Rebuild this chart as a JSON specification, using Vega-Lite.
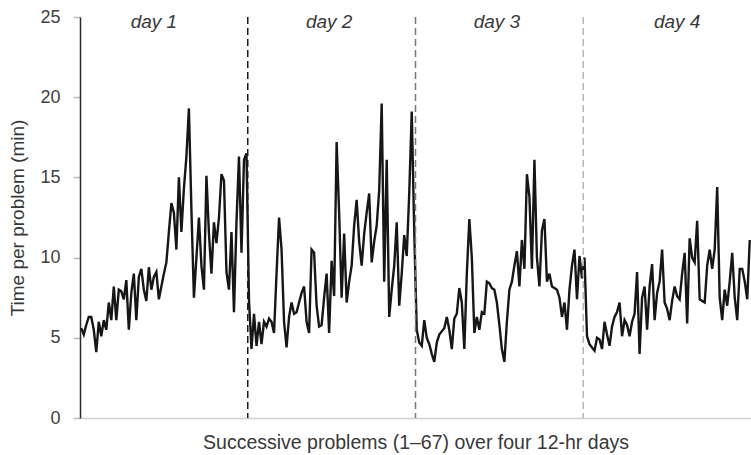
{
  "$schema": "https://vega.github.io/schema/vega-lite/v6.json",
  "width": 671,
  "height": 401,
  "autosize": {"type": "none"},
  "padding": {"left": 80, "top": 17, "right": 0, "bottom": 37},
  "background": "white",
  "config": {
    "view": {"stroke": null},
    "font": "Liberation Sans"
  },
  "datasets": {
    "times": [
      {"problem": 1, "minutes": 5.6}, {"problem": 2, "minutes": 5.2}, {"problem": 3, "minutes": 5.8}, {"problem": 4, "minutes": 6.3}, {"problem": 5, "minutes": 6.3},
      {"problem": 6, "minutes": 5.5}, {"problem": 7, "minutes": 4.1}, {"problem": 8, "minutes": 6.0}, {"problem": 9, "minutes": 5.1}, {"problem": 10, "minutes": 6.1},
      {"problem": 11, "minutes": 5.5}, {"problem": 12, "minutes": 7.2}, {"problem": 13, "minutes": 6.1}, {"problem": 14, "minutes": 8.2}, {"problem": 15, "minutes": 6.1},
      {"problem": 16, "minutes": 8.0}, {"problem": 17, "minutes": 7.9}, {"problem": 18, "minutes": 7.4}, {"problem": 19, "minutes": 8.6}, {"problem": 20, "minutes": 5.5},
      {"problem": 21, "minutes": 7.8}, {"problem": 22, "minutes": 9.0}, {"problem": 23, "minutes": 6.1}, {"problem": 24, "minutes": 8.8}, {"problem": 25, "minutes": 9.3},
      {"problem": 26, "minutes": 8.0}, {"problem": 27, "minutes": 7.3}, {"problem": 28, "minutes": 9.4}, {"problem": 29, "minutes": 8.0}, {"problem": 30, "minutes": 8.8},
      {"problem": 31, "minutes": 9.1}, {"problem": 32, "minutes": 7.4}, {"problem": 33, "minutes": 8.2}, {"problem": 34, "minutes": 9.0}, {"problem": 35, "minutes": 9.7},
      {"problem": 36, "minutes": 11.6}, {"problem": 37, "minutes": 13.4}, {"problem": 38, "minutes": 12.8}, {"problem": 39, "minutes": 10.5}, {"problem": 40, "minutes": 15.0},
      {"problem": 41, "minutes": 11.6}, {"problem": 42, "minutes": 14.3}, {"problem": 43, "minutes": 16.3}, {"problem": 44, "minutes": 19.3}, {"problem": 45, "minutes": 13.0},
      {"problem": 46, "minutes": 7.5}, {"problem": 47, "minutes": 10.0}, {"problem": 48, "minutes": 12.5}, {"problem": 49, "minutes": 9.5}, {"problem": 50, "minutes": 8.0},
      {"problem": 51, "minutes": 15.1}, {"problem": 52, "minutes": 11.5}, {"problem": 53, "minutes": 9.0}, {"problem": 54, "minutes": 12.2}, {"problem": 55, "minutes": 10.9},
      {"problem": 56, "minutes": 12.5}, {"problem": 57, "minutes": 15.2}, {"problem": 58, "minutes": 14.8}, {"problem": 59, "minutes": 9.1}, {"problem": 60, "minutes": 8.0},
      {"problem": 61, "minutes": 11.6}, {"problem": 62, "minutes": 6.6}, {"problem": 63, "minutes": 12.2}, {"problem": 64, "minutes": 16.3}, {"problem": 65, "minutes": 10.3},
      {"problem": 66, "minutes": 16.1}, {"problem": 67, "minutes": 16.5},
      {"problem": 68, "minutes": 7.3}, {"problem": 69, "minutes": 4.3}, {"problem": 70, "minutes": 6.5}, {"problem": 71, "minutes": 4.5}, {"problem": 72, "minutes": 6.0},
      {"problem": 73, "minutes": 4.6}, {"problem": 74, "minutes": 6.0}, {"problem": 75, "minutes": 5.7}, {"problem": 76, "minutes": 6.2}, {"problem": 77, "minutes": 6.0},
      {"problem": 78, "minutes": 5.3}, {"problem": 79, "minutes": 9.0}, {"problem": 80, "minutes": 12.5}, {"problem": 81, "minutes": 10.5}, {"problem": 82, "minutes": 6.0},
      {"problem": 83, "minutes": 4.4}, {"problem": 84, "minutes": 6.3}, {"problem": 85, "minutes": 7.2}, {"problem": 86, "minutes": 6.5}, {"problem": 87, "minutes": 6.6},
      {"problem": 88, "minutes": 7.2}, {"problem": 89, "minutes": 7.8}, {"problem": 90, "minutes": 8.2}, {"problem": 91, "minutes": 6.0}, {"problem": 92, "minutes": 5.3},
      {"problem": 93, "minutes": 10.5}, {"problem": 94, "minutes": 10.3}, {"problem": 95, "minutes": 7.0}, {"problem": 96, "minutes": 5.7}, {"problem": 97, "minutes": 5.8},
      {"problem": 98, "minutes": 7.5}, {"problem": 99, "minutes": 9.0}, {"problem": 100, "minutes": 5.3}, {"problem": 101, "minutes": 9.8}, {"problem": 102, "minutes": 7.6},
      {"problem": 103, "minutes": 17.2}, {"problem": 104, "minutes": 12.8}, {"problem": 105, "minutes": 7.5}, {"problem": 106, "minutes": 11.5}, {"problem": 107, "minutes": 7.2},
      {"problem": 108, "minutes": 8.5}, {"problem": 109, "minutes": 9.5}, {"problem": 110, "minutes": 12.0}, {"problem": 111, "minutes": 13.6}, {"problem": 112, "minutes": 11.0},
      {"problem": 113, "minutes": 9.5}, {"problem": 114, "minutes": 11.5}, {"problem": 115, "minutes": 12.8}, {"problem": 116, "minutes": 14.0}, {"problem": 117, "minutes": 9.7},
      {"problem": 118, "minutes": 11.0}, {"problem": 119, "minutes": 12.0}, {"problem": 120, "minutes": 14.2}, {"problem": 121, "minutes": 19.6}, {"problem": 122, "minutes": 8.5},
      {"problem": 123, "minutes": 16.1}, {"problem": 124, "minutes": 6.3}, {"problem": 125, "minutes": 8.0}, {"problem": 126, "minutes": 9.5}, {"problem": 127, "minutes": 12.2},
      {"problem": 128, "minutes": 7.0}, {"problem": 129, "minutes": 9.0}, {"problem": 130, "minutes": 11.4}, {"problem": 131, "minutes": 10.1}, {"problem": 132, "minutes": 14.0},
      {"problem": 133, "minutes": 19.1}, {"problem": 134, "minutes": 11.6},
      {"problem": 135, "minutes": 5.5}, {"problem": 136, "minutes": 4.7}, {"problem": 137, "minutes": 4.5}, {"problem": 138, "minutes": 6.1}, {"problem": 139, "minutes": 5.0},
      {"problem": 140, "minutes": 4.6}, {"problem": 141, "minutes": 4.0}, {"problem": 142, "minutes": 3.5}, {"problem": 143, "minutes": 4.7}, {"problem": 144, "minutes": 5.2},
      {"problem": 145, "minutes": 5.4}, {"problem": 146, "minutes": 5.6}, {"problem": 147, "minutes": 6.3}, {"problem": 148, "minutes": 5.5}, {"problem": 149, "minutes": 4.3},
      {"problem": 150, "minutes": 6.2}, {"problem": 151, "minutes": 6.5}, {"problem": 152, "minutes": 8.1}, {"problem": 153, "minutes": 7.2}, {"problem": 154, "minutes": 4.3},
      {"problem": 155, "minutes": 9.0}, {"problem": 156, "minutes": 12.4}, {"problem": 157, "minutes": 10.0}, {"problem": 158, "minutes": 5.3}, {"problem": 159, "minutes": 6.3},
      {"problem": 160, "minutes": 5.5}, {"problem": 161, "minutes": 6.6}, {"problem": 162, "minutes": 6.5}, {"problem": 163, "minutes": 8.5}, {"problem": 164, "minutes": 8.4},
      {"problem": 165, "minutes": 8.1}, {"problem": 166, "minutes": 8.0}, {"problem": 167, "minutes": 7.2}, {"problem": 168, "minutes": 5.8}, {"problem": 169, "minutes": 4.3},
      {"problem": 170, "minutes": 3.5}, {"problem": 171, "minutes": 6.0}, {"problem": 172, "minutes": 8.0}, {"problem": 173, "minutes": 8.5}, {"problem": 174, "minutes": 9.5},
      {"problem": 175, "minutes": 10.4}, {"problem": 176, "minutes": 8.2}, {"problem": 177, "minutes": 11.1}, {"problem": 178, "minutes": 9.3}, {"problem": 179, "minutes": 15.2},
      {"problem": 180, "minutes": 13.8}, {"problem": 181, "minutes": 9.3}, {"problem": 182, "minutes": 16.1}, {"problem": 183, "minutes": 10.0}, {"problem": 184, "minutes": 8.2},
      {"problem": 185, "minutes": 11.7}, {"problem": 186, "minutes": 12.4}, {"problem": 187, "minutes": 8.5}, {"problem": 188, "minutes": 9.0}, {"problem": 189, "minutes": 8.2},
      {"problem": 190, "minutes": 8.1}, {"problem": 191, "minutes": 8.0}, {"problem": 192, "minutes": 7.5}, {"problem": 193, "minutes": 6.3}, {"problem": 194, "minutes": 7.2},
      {"problem": 195, "minutes": 5.5}, {"problem": 196, "minutes": 8.0}, {"problem": 197, "minutes": 9.5}, {"problem": 198, "minutes": 10.5}, {"problem": 199, "minutes": 7.4},
      {"problem": 200, "minutes": 10.1}, {"problem": 201, "minutes": 8.7},
      {"problem": 202, "minutes": 10.0}, {"problem": 203, "minutes": 5.1}, {"problem": 204, "minutes": 4.6}, {"problem": 205, "minutes": 4.4}, {"problem": 206, "minutes": 4.2},
      {"problem": 207, "minutes": 5.0}, {"problem": 208, "minutes": 4.9}, {"problem": 209, "minutes": 4.3}, {"problem": 210, "minutes": 6.0}, {"problem": 211, "minutes": 5.2},
      {"problem": 212, "minutes": 4.5}, {"problem": 213, "minutes": 5.7}, {"problem": 214, "minutes": 6.3}, {"problem": 215, "minutes": 6.6}, {"problem": 216, "minutes": 7.2},
      {"problem": 217, "minutes": 5.1}, {"problem": 218, "minutes": 6.1}, {"problem": 219, "minutes": 5.8}, {"problem": 220, "minutes": 5.1}, {"problem": 221, "minutes": 6.0},
      {"problem": 222, "minutes": 6.5}, {"problem": 223, "minutes": 9.1}, {"problem": 224, "minutes": 4.0}, {"problem": 225, "minutes": 7.5}, {"problem": 226, "minutes": 8.2},
      {"problem": 227, "minutes": 5.5}, {"problem": 228, "minutes": 8.2}, {"problem": 229, "minutes": 9.6}, {"problem": 230, "minutes": 6.1}, {"problem": 231, "minutes": 7.8},
      {"problem": 232, "minutes": 8.5}, {"problem": 233, "minutes": 10.5}, {"problem": 234, "minutes": 7.2}, {"problem": 235, "minutes": 6.8}, {"problem": 236, "minutes": 6.1},
      {"problem": 237, "minutes": 7.3}, {"problem": 238, "minutes": 8.2}, {"problem": 239, "minutes": 7.6}, {"problem": 240, "minutes": 7.4}, {"problem": 241, "minutes": 9.0},
      {"problem": 242, "minutes": 10.3}, {"problem": 243, "minutes": 5.9}, {"problem": 244, "minutes": 11.2}, {"problem": 245, "minutes": 10.0}, {"problem": 246, "minutes": 9.7},
      {"problem": 247, "minutes": 12.3}, {"problem": 248, "minutes": 7.4}, {"problem": 249, "minutes": 7.3}, {"problem": 250, "minutes": 7.2}, {"problem": 251, "minutes": 9.5},
      {"problem": 252, "minutes": 10.5}, {"problem": 253, "minutes": 9.3}, {"problem": 254, "minutes": 10.5}, {"problem": 255, "minutes": 14.4}, {"problem": 256, "minutes": 7.5},
      {"problem": 257, "minutes": 6.1}, {"problem": 258, "minutes": 8.0}, {"problem": 259, "minutes": 7.0}, {"problem": 260, "minutes": 8.5}, {"problem": 261, "minutes": 10.3},
      {"problem": 262, "minutes": 7.5}, {"problem": 263, "minutes": 6.1}, {"problem": 264, "minutes": 9.3}, {"problem": 265, "minutes": 9.3}, {"problem": 266, "minutes": 8.5},
      {"problem": 267, "minutes": 7.4}, {"problem": 268, "minutes": 11.1}
    ],
    "boundaries": [
      {"boundary": 67.5, "end_of": "day 1"},
      {"boundary": 134.5, "end_of": "day 2"},
      {"boundary": 201.5, "end_of": "day 3"}
    ],
    "days": [
      {"problem": 30, "day": "day 1"},
      {"problem": 100, "day": "day 2"},
      {"problem": 167, "day": "day 3"},
      {"problem": 239, "day": "day 4"}
    ]
  },
  "layer": [
    {
      "data": {"name": "times"},
      "mark": {"type": "line", "color": "#161616", "strokeWidth": 2.4, "strokeJoin": "miter", "strokeMiterLimit": 4},
      "encoding": {
        "x": {
          "field": "problem",
          "type": "quantitative",
          "scale": {"domain": [0.5, 268.5], "nice": false, "zero": false},
          "axis": {
            "title": "Successive problems (1–67) over four 12-hr days",
            "labels": false,
            "ticks": false,
            "grid": false,
            "domainColor": "#cfcfcf",
            "domainWidth": 1.5,
            "titleFontSize": 19.5,
            "titleFontWeight": "normal",
            "titleColor": "#383838",
            "titlePadding": 15
          }
        },
        "y": {
          "field": "minutes",
          "type": "quantitative",
          "scale": {"domain": [0, 25], "nice": false},
          "axis": {
            "title": "Time per problem (min)",
            "values": [0, 5, 10, 15, 20, 25],
            "grid": false,
            "tickSize": 7,
            "tickColor": "#bdbdbd",
            "tickWidth": 1.5,
            "domainColor": "#2a2a2a",
            "domainWidth": 1.5,
            "labelFontSize": 18,
            "labelColor": "#404040",
            "labelPadding": 13,
            "titleFontSize": 19,
            "titleFontWeight": "normal",
            "titleColor": "#383838",
            "titlePadding": 12
          }
        }
      }
    },
    {
      "data": {"name": "boundaries"},
      "mark": {"type": "rule", "strokeDash": [7, 4], "strokeWidth": 1.5},
      "encoding": {
        "x": {"field": "boundary", "type": "quantitative", "title": "Successive problems (1–67) over four 12-hr days"},
        "color": {
          "field": "end_of",
          "type": "nominal",
          "scale": {"domain": ["day 1", "day 2", "day 3"], "range": ["#1a1a1a", "#777777", "#b8b8b8"]},
          "legend": null
        }
      }
    },
    {
      "data": {"name": "days"},
      "mark": {"type": "text", "fontStyle": "italic", "fontSize": 19, "color": "#383838", "baseline": "middle"},
      "encoding": {
        "x": {"field": "problem", "type": "quantitative", "title": "Successive problems (1–67) over four 12-hr days"},
        "y": {"datum": 24.7},
        "text": {"field": "day"}
      }
    }
  ]
}
